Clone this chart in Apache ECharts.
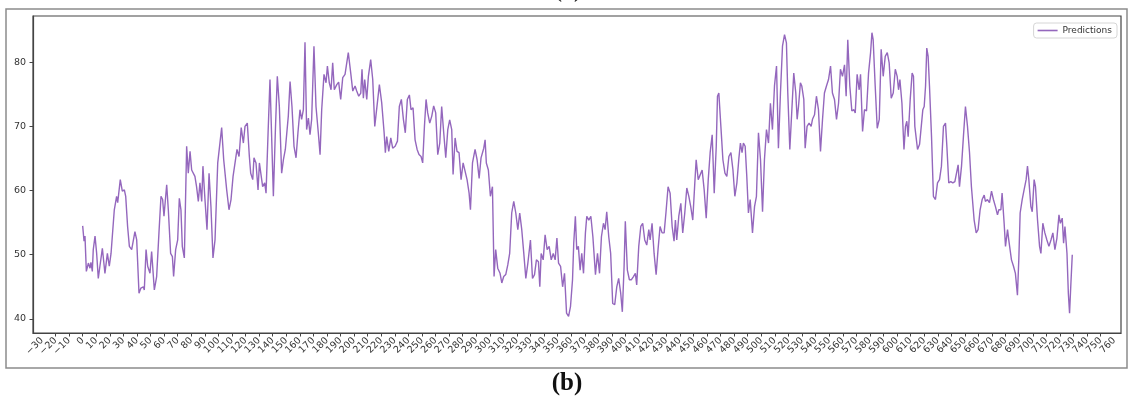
<!DOCTYPE html>
<html>
<head>
<meta charset="utf-8">
<script src="https://cdn.jsdelivr.net/npm/echarts@6.0.0/dist/echarts.min.js"></script>
<style>
html, body { margin: 0; padding: 0; background: #fff; }
#chart { width: 1129px; height: 401px; }
</style>
</head>
<body>
<div id="chart"></div>
<script>
// values (x = step index, y = predicted value)
const steps = [
    0, 1.0, 1.7, 2.7, 4.2, 5.4, 6.1, 7.1, 7.8, 9.1, 10.3, 11.5, 12.7, 14.5, 16.4, 18.2, 19.6, 20.9, 23.3, 25.0,
    25.8, 27.7, 29.2, 30.7, 31.7, 33.1, 34.4, 36.1, 37.3, 38.5, 39.8, 41.5, 42.9, 44.7, 45.4, 46.7, 47.9, 49.6, 50.8, 52.8,
    54.5, 56.2, 57.7, 58.9, 59.9, 61.9, 63.1, 64.8, 66.1, 67.0, 68.5, 70.0, 71.2, 72.4, 73.4, 74.9, 76.6, 77.8, 79.1, 80.3,
    81.5, 82.7, 83.9, 85.2, 86.4, 87.7, 88.6, 90.1, 91.6, 93.1, 94.5, 96.0, 97.5, 99.5, 102.4, 103.9, 106.1, 107.8, 109.3, 110.8,
    112.2, 113.7, 115.2, 116.8, 118.4, 119.6, 121.3, 122.8, 123.8, 125.3, 126.2, 127.7, 129.2, 130.2, 131.2, 132.6, 134.1, 135.1, 136.6, 138.0,
    139.0, 140.5, 142.0, 143.4, 144.9, 146.6, 147.9, 149.3, 150.3, 151.5, 152.8, 154.2, 155.7, 157.2, 158.6, 160.1, 161.3, 162.6, 163.8, 165.0,
    166.3, 167.5, 168.7, 170.4, 171.9, 173.6, 174.9, 176.1, 177.8, 179.3, 180.3, 181.7, 183.0, 184.2, 185.4, 187.2, 188.6, 190.1, 191.6, 193.3,
    195.7, 197.5, 199.0, 200.7, 201.9, 203.4, 204.9, 205.8, 206.8, 207.8, 209.3, 210.5, 212.2, 213.7, 215.2, 216.6, 218.6, 220.3, 222.1, 223.0,
    224.0, 225.5, 227.0, 228.4, 230.2, 231.9, 233.3, 234.8, 236.3, 237.7, 239.2, 240.7, 241.9, 243.4, 244.9, 246.4, 247.8, 249.3, 250.5, 251.8,
    253.0, 254.2, 255.7, 257.2, 258.6, 260.1, 261.6, 263.1, 264.5, 266.0, 267.5, 269.0, 270.4, 271.9, 272.9, 274.4, 275.8, 277.3, 278.8, 280.3,
    281.7, 283.2, 284.7, 285.7, 287.2, 289.1, 290.6, 292.1, 293.5, 294.5, 295.5, 296.5, 297.4, 298.9, 300.4, 301.9, 303.1, 304.3, 305.8, 307.5,
    308.8, 310.2, 311.7, 313.2, 314.6, 316.1, 317.6, 319.1, 320.6, 322.0, 323.5, 325.0, 326.5, 328.0, 329.9, 331.4, 332.9, 334.3, 335.8, 336.8,
    337.8, 339.3, 340.7, 342.2, 343.7, 345.2, 346.7, 348.1, 349.4, 350.6, 352.1, 353.6, 355.0, 356.5, 358.0, 359.4, 360.9, 361.8, 363.0, 364.0,
    365.2, 366.5, 367.7, 369.0, 370.4, 371.4, 372.9, 374.4, 375.9, 377.8, 379.3, 380.8, 382.2, 383.7, 384.9, 386.1, 387.6, 389.0, 390.5, 392.0,
    393.5, 394.9, 396.4, 397.6, 398.9, 399.8, 401.3, 402.8, 404.3, 405.8, 407.2, 408.2, 409.7, 411.2, 412.6, 414.1, 415.6, 417.1, 418.1, 419.5,
    421.0, 422.5, 423.9, 425.4, 426.9, 428.4, 429.8, 431.3, 432.8, 434.3, 435.7, 436.7, 437.7, 439.2, 440.7, 442.1, 443.6, 445.1, 446.6, 448.0,
    449.5, 451.0, 452.0, 453.5, 454.9, 456.4, 457.9, 459.4, 460.9, 462.3, 463.8, 465.3, 466.8, 467.7, 468.7, 470.2, 471.7, 473.2, 474.6, 476.1,
    477.6, 479.1, 480.5, 482.0, 483.5, 484.6, 485.8, 486.8, 488.1, 489.3, 490.5, 491.8, 493.5, 495.0, 496.4, 497.9, 499.4, 500.9, 502.3, 503.8,
    505.3, 506.7, 508.2, 509.7, 511.2, 512.6, 514.1, 515.6, 517.1, 518.5, 519.5, 521.0, 522.5, 523.9, 525.4, 526.4, 527.4, 528.8, 529.8, 531.3,
    532.3, 533.7, 535.2, 536.7, 537.7, 539.2, 540.6, 542.1, 543.6, 545.1, 546.5, 548.0, 549.5, 551.0, 552.4, 553.9, 555.4, 556.9, 558.3, 559.8,
    561.3, 562.5, 563.7, 565.2, 566.7, 568.2, 569.2, 570.6, 572.1, 573.1, 574.6, 576.0, 577.5, 579.0, 580.5, 581.5, 582.4, 583.9, 585.4, 586.9,
    588.3, 589.8, 591.3, 592.8, 594.2, 595.7, 597.2, 598.7, 600.1, 601.1, 602.1, 603.6, 605.1, 606.2, 607.2, 608.2, 609.7, 611.1, 612.1, 613.1,
    614.1, 615.1, 616.6, 617.5, 619.0, 620.0, 621.0, 621.9, 622.9, 623.9, 625.4, 626.8, 628.3, 629.8, 631.3, 632.7, 634.2, 635.7, 636.7, 638.1,
    639.6, 641.1, 642.6, 644.0, 645.0, 646.0, 647.5, 648.9, 650.4, 651.9, 653.4, 654.8, 656.8, 658.3, 659.7, 661.2, 662.7, 664.2, 665.1, 666.6,
    668.1, 669.6, 671.0, 672.5, 674.0, 675.0, 676.5, 677.4, 678.9, 679.9, 681.4, 682.3, 683.3, 684.3, 685.8, 687.2, 688.7, 689.7, 690.7, 692.2,
    693.6, 695.1, 696.1, 697.1, 698.6, 699.6, 701.0, 702.0, 703.5, 705.0, 706.0, 707.4, 708.9, 710.4, 711.9, 713.4, 714.8, 716.3, 717.8, 719.3,
    720.3, 721.7, 722.7, 723.7, 725.2, 726.2, 727.1, 728.1, 729.1
];
const predictions = [
    54.5, 52.1, 52.9, 47.4, 48.7, 47.9, 48.8, 47.4, 50.8, 52.9, 50.2, 46.3, 48.2, 51.0, 47.1, 50.2, 48.2, 50.2, 57.0, 59.1,
    58.1, 61.7, 59.9, 60.1, 59.1, 54.4, 51.3, 50.8, 50.8, 53.6, 52.3, 44.0, 44.8, 45.0, 44.5, 50.8, 48.2, 47.1, 50.5, 44.5,
    46.6, 53.4, 59.1, 58.6, 56.0, 60.9, 57.0, 50.2, 49.7, 46.6, 50.8, 52.3, 58.8, 57.0, 51.3, 49.5, 66.9, 62.7, 66.1, 63.2,
    63.0, 62.2, 60.6, 58.3, 61.2, 58.3, 63.8, 58.6, 53.9, 62.7, 57.5, 49.5, 52.3, 64.3, 69.8, 64.8, 60.1, 57.0, 58.6, 62.2,
    62.5, 66.4, 65.3, 69.8, 67.4, 70.0, 70.5, 65.3, 62.7, 61.7, 65.1, 64.3, 60.1, 64.3, 64.5, 60.6, 61.2, 59.6, 69.0, 77.3,
    77.6, 59.1, 69.5, 77.8, 73.1, 62.7, 64.8, 66.4, 66.4, 71.6, 77.0, 73.1, 66.9, 65.1, 69.0, 72.6, 71.1, 72.6, 83.1, 69.5,
    71.3, 68.7, 71.1, 82.5, 73.1, 69.0, 65.6, 72.6, 78.1, 76.8, 79.4, 76.8, 75.7, 79.9, 75.7, 76.5, 76.9, 74.2, 77.6, 78.1,
    81.5, 78.3, 75.5, 76.3, 75.5, 74.7, 75.2, 78.9, 74.4, 77.3, 74.2, 77.8, 80.4, 77.3, 70.0, 70.0, 76.5, 73.7, 69.0, 65.9,
    68.4, 66.1, 68.2, 66.6, 66.9, 67.7, 73.1, 74.2, 71.1, 69.0, 74.2, 74.9, 72.6, 72.9, 67.9, 66.4, 65.6, 65.3, 64.3, 70.0,
    74.2, 72.1, 70.5, 71.6, 73.2, 72.1, 65.6, 67.4, 73.1, 69.0, 65.1, 69.5, 71.0, 69.5, 62.5, 68.2, 66.1, 65.9, 61.7, 64.3,
    64.5, 61.7, 59.6, 57.0, 64.3, 66.4, 64.8, 61.9, 65.1, 65.3, 66.6, 67.9, 64.3, 63.2, 59.1, 60.6, 46.6, 50.8, 47.9, 47.1,
    45.6, 46.6, 46.9, 48.4, 50.2, 56.5, 58.3, 56.5, 53.9, 56.5, 53.9, 50.2, 46.3, 48.7, 52.3, 46.3, 46.9, 49.2, 48.9, 45.0,
    50.2, 49.2, 53.1, 50.8, 51.3, 49.2, 50.2, 49.2, 52.6, 48.7, 48.2, 45.0, 47.1, 40.9, 40.4, 41.9, 46.1, 51.8, 56.0, 50.8,
    51.3, 47.6, 50.2, 47.1, 53.4, 56.0, 55.4, 56.0, 52.8, 46.9, 50.2, 47.1, 52.8, 54.9, 53.9, 56.7, 52.8, 50.2, 42.4, 42.2,
    45.0, 46.3, 44.0, 41.1, 48.2, 55.2, 47.6, 46.1, 46.1, 46.6, 47.1, 45.3, 51.3, 54.4, 54.9, 52.3, 51.5, 53.9, 52.3, 54.9,
    50.2, 46.9, 50.8, 54.4, 53.4, 53.4, 56.7, 60.6, 59.6, 54.4, 52.1, 55.4, 52.3, 56.0, 58.0, 53.4, 56.5, 60.4, 59.1, 57.5,
    55.4, 61.2, 64.8, 61.7, 61.9, 63.2, 60.1, 55.7, 61.7, 65.9, 68.7, 59.6, 66.9, 74.7, 75.2, 70.0, 64.8, 62.7, 62.2, 65.3,
    65.9, 63.2, 59.1, 61.2, 65.1, 67.4, 65.9, 67.4, 66.9, 62.2, 56.5, 58.6, 53.4, 57.5, 59.1, 69.0, 64.8, 56.7, 64.8, 69.5,
    67.4, 73.6, 69.5, 76.3, 79.4, 66.6, 75.2, 82.5, 84.3, 83.0, 75.2, 66.4, 72.6, 78.3, 75.2, 71.1, 73.1, 76.8, 76.3, 74.2,
    66.6, 70.0, 70.5, 70.0, 71.1, 71.8, 74.7, 72.6, 66.1, 71.1, 75.2, 76.3, 77.3, 79.4, 75.2, 74.2, 71.1, 73.6, 78.9, 77.8,
    79.6, 74.7, 83.5, 76.3, 72.4, 72.6, 72.1, 78.1, 75.7, 78.1, 69.2, 72.6, 72.4, 78.3, 81.5, 84.6, 83.5, 76.3, 69.7, 71.1,
    82.0, 77.8, 80.9, 81.5, 79.9, 74.4, 75.2, 78.9, 77.8, 75.7, 77.3, 73.6, 66.4, 70.0, 70.8, 68.4, 74.2, 78.3, 77.8, 70.0,
    70.0, 66.4, 67.2, 66.9, 72.6, 73.1, 76.3, 82.2, 80.9, 76.3, 68.4, 59.1, 58.6, 61.2, 61.7, 63.8, 70.0, 70.5, 66.9, 61.2,
    61.4, 61.2, 61.4, 61.2, 64.0, 60.6, 63.8, 68.4, 73.1, 70.0, 65.9, 60.6, 55.4, 53.4, 53.9, 57.0, 58.6, 59.3, 58.3, 58.6,
    58.1, 59.9, 58.6, 57.5, 56.2, 57.0, 57.0, 59.6, 54.9, 51.3, 53.9, 52.3, 52.1, 49.2, 48.2, 47.1, 43.7, 49.2, 56.5, 58.6,
    60.1, 61.7, 63.8, 61.7, 57.5, 56.7, 61.7, 60.6, 55.4, 51.3, 50.2, 54.9, 53.4, 52.3, 51.3, 52.3, 53.4, 50.8, 52.6, 56.2,
    54.9, 55.7, 51.8, 54.4, 50.2, 44.0, 40.9, 45.6, 50.0
];
const xTicks = [
    -30, -20, -10, 0, 10, 20, 30, 40, 50, 60, 70, 80, 90, 100, 110, 120, 130, 140, 150, 160,
    170, 180, 190, 200, 210, 220, 230, 240, 250, 260, 270, 280, 290, 300, 310, 320, 330, 340, 350, 360,
    370, 380, 390, 400, 410, 420, 430, 440, 450, 460, 470, 480, 490, 500, 510, 520, 530, 540, 550, 560,
    570, 580, 590, 600, 610, 620, 630, 640, 650, 660, 670, 680, 690, 700, 710, 720, 730, 740, 750, 760
];
const yTicks = [40, 50, 60, 70, 80];
const seriesName = 'Predictions';
const panelLabel = '(b)';
const prevPanelLabel = '(a)';

const lineColor = '#9467bd';
const axisColor = '#444';
const labelColor = '#333';
const tickFont = 'DejaVu Sans';
const xMin = -36.6, xMax = 765;

const chart = echarts.init(document.getElementById('chart'), null, {renderer: 'canvas'});
const lineData = steps.map((x, i) => [x, predictions[i]]);

const minus = v => String(v).replace('-', '\u2212');
const xLabelStyle = {
    rotate: 45, margin: 6, interval: 0, hideOverlap: false,
    fontFamily: tickFont, fontSize: 9.5, color: labelColor,
    formatter: minus
};
// ECharts drops the end labels when rotated neighbours touch, so the two
// outermost labels live on a second, otherwise invisible, axis
const edgeTicks = [xTicks[0], xTicks[xTicks.length - 1]];

const option = {
    animation: false,
    backgroundColor: '#fff',
    grid: {
        left: 33, right: 8, top: 16, bottom: 68,
        show: true, borderColor: axisColor, borderWidth: 1.2,
        containLabel: false, outerBoundsMode: 'none'
    },
    legend: {
        data: [seriesName],
        right: 12, top: 23,
        orient: 'horizontal',
        icon: 'rect',
        itemWidth: 20, itemHeight: 1.6,
        padding: [3, 5, 3, 4],
        backgroundColor: '#fff',
        borderColor: '#d6d6d6', borderWidth: 1, borderRadius: 3,
        textStyle: {fontFamily: tickFont, fontSize: 9, color: labelColor}
    },
    xAxis: [{
        type: 'value',
        min: xMin, max: xMax,
        axisLine: {show: true, onZero: false, lineStyle: {color: axisColor, width: 1.2}},
        axisTick: {show: true, length: 3.5, customValues: xTicks, lineStyle: {color: axisColor}},
        axisLabel: Object.assign({customValues: xTicks}, xLabelStyle),
        splitLine: {show: false}
    }, {
        type: 'value',
        position: 'bottom',
        min: xMin, max: xMax,
        axisLine: {show: false, onZero: false},
        axisTick: {show: false},
        axisLabel: Object.assign({customValues: edgeTicks, showMinLabel: true, showMaxLabel: true}, xLabelStyle),
        splitLine: {show: false}
    }],
    yAxis: {
        type: 'value',
        min: 37.8, max: 87.2,
        axisLine: {show: true, onZero: false, lineStyle: {color: axisColor, width: 1.2}},
        axisTick: {show: true, length: 3.5, customValues: yTicks, lineStyle: {color: axisColor}},
        axisLabel: {
            customValues: yTicks, margin: 7,
            fontFamily: tickFont, fontSize: 9.5, color: labelColor
        },
        splitLine: {show: false}
    },
    series: [{
        name: seriesName,
        type: 'line',
        xAxisIndex: 0,
        data: lineData,
        showSymbol: false,
        symbol: 'none',
        color: lineColor,
        lineStyle: {width: 1.4, color: lineColor}
    }],
    graphic: [
        {
            type: 'rect', silent: true,
            shape: {x: 6, y: 9, width: 1121, height: 359},
            style: {fill: 'none', stroke: '#8c8c8c', lineWidth: 1.5}
        },
        {
            type: 'text', silent: true,
            style: {
                text: prevPanelLabel, x: 568, y: 3,
                align: 'center', verticalAlign: 'bottom',
                font: 'bold 24px "Liberation Serif"', fill: '#111'
            }
        },
        {
            type: 'text', silent: true,
            style: {
                text: panelLabel, x: 567, y: 384,
                align: 'center', verticalAlign: 'middle',
                font: 'bold 25px "Liberation Serif"', fill: '#111'
            }
        }
    ]
};

chart.setOption(option);
</script>
</body>
</html>
